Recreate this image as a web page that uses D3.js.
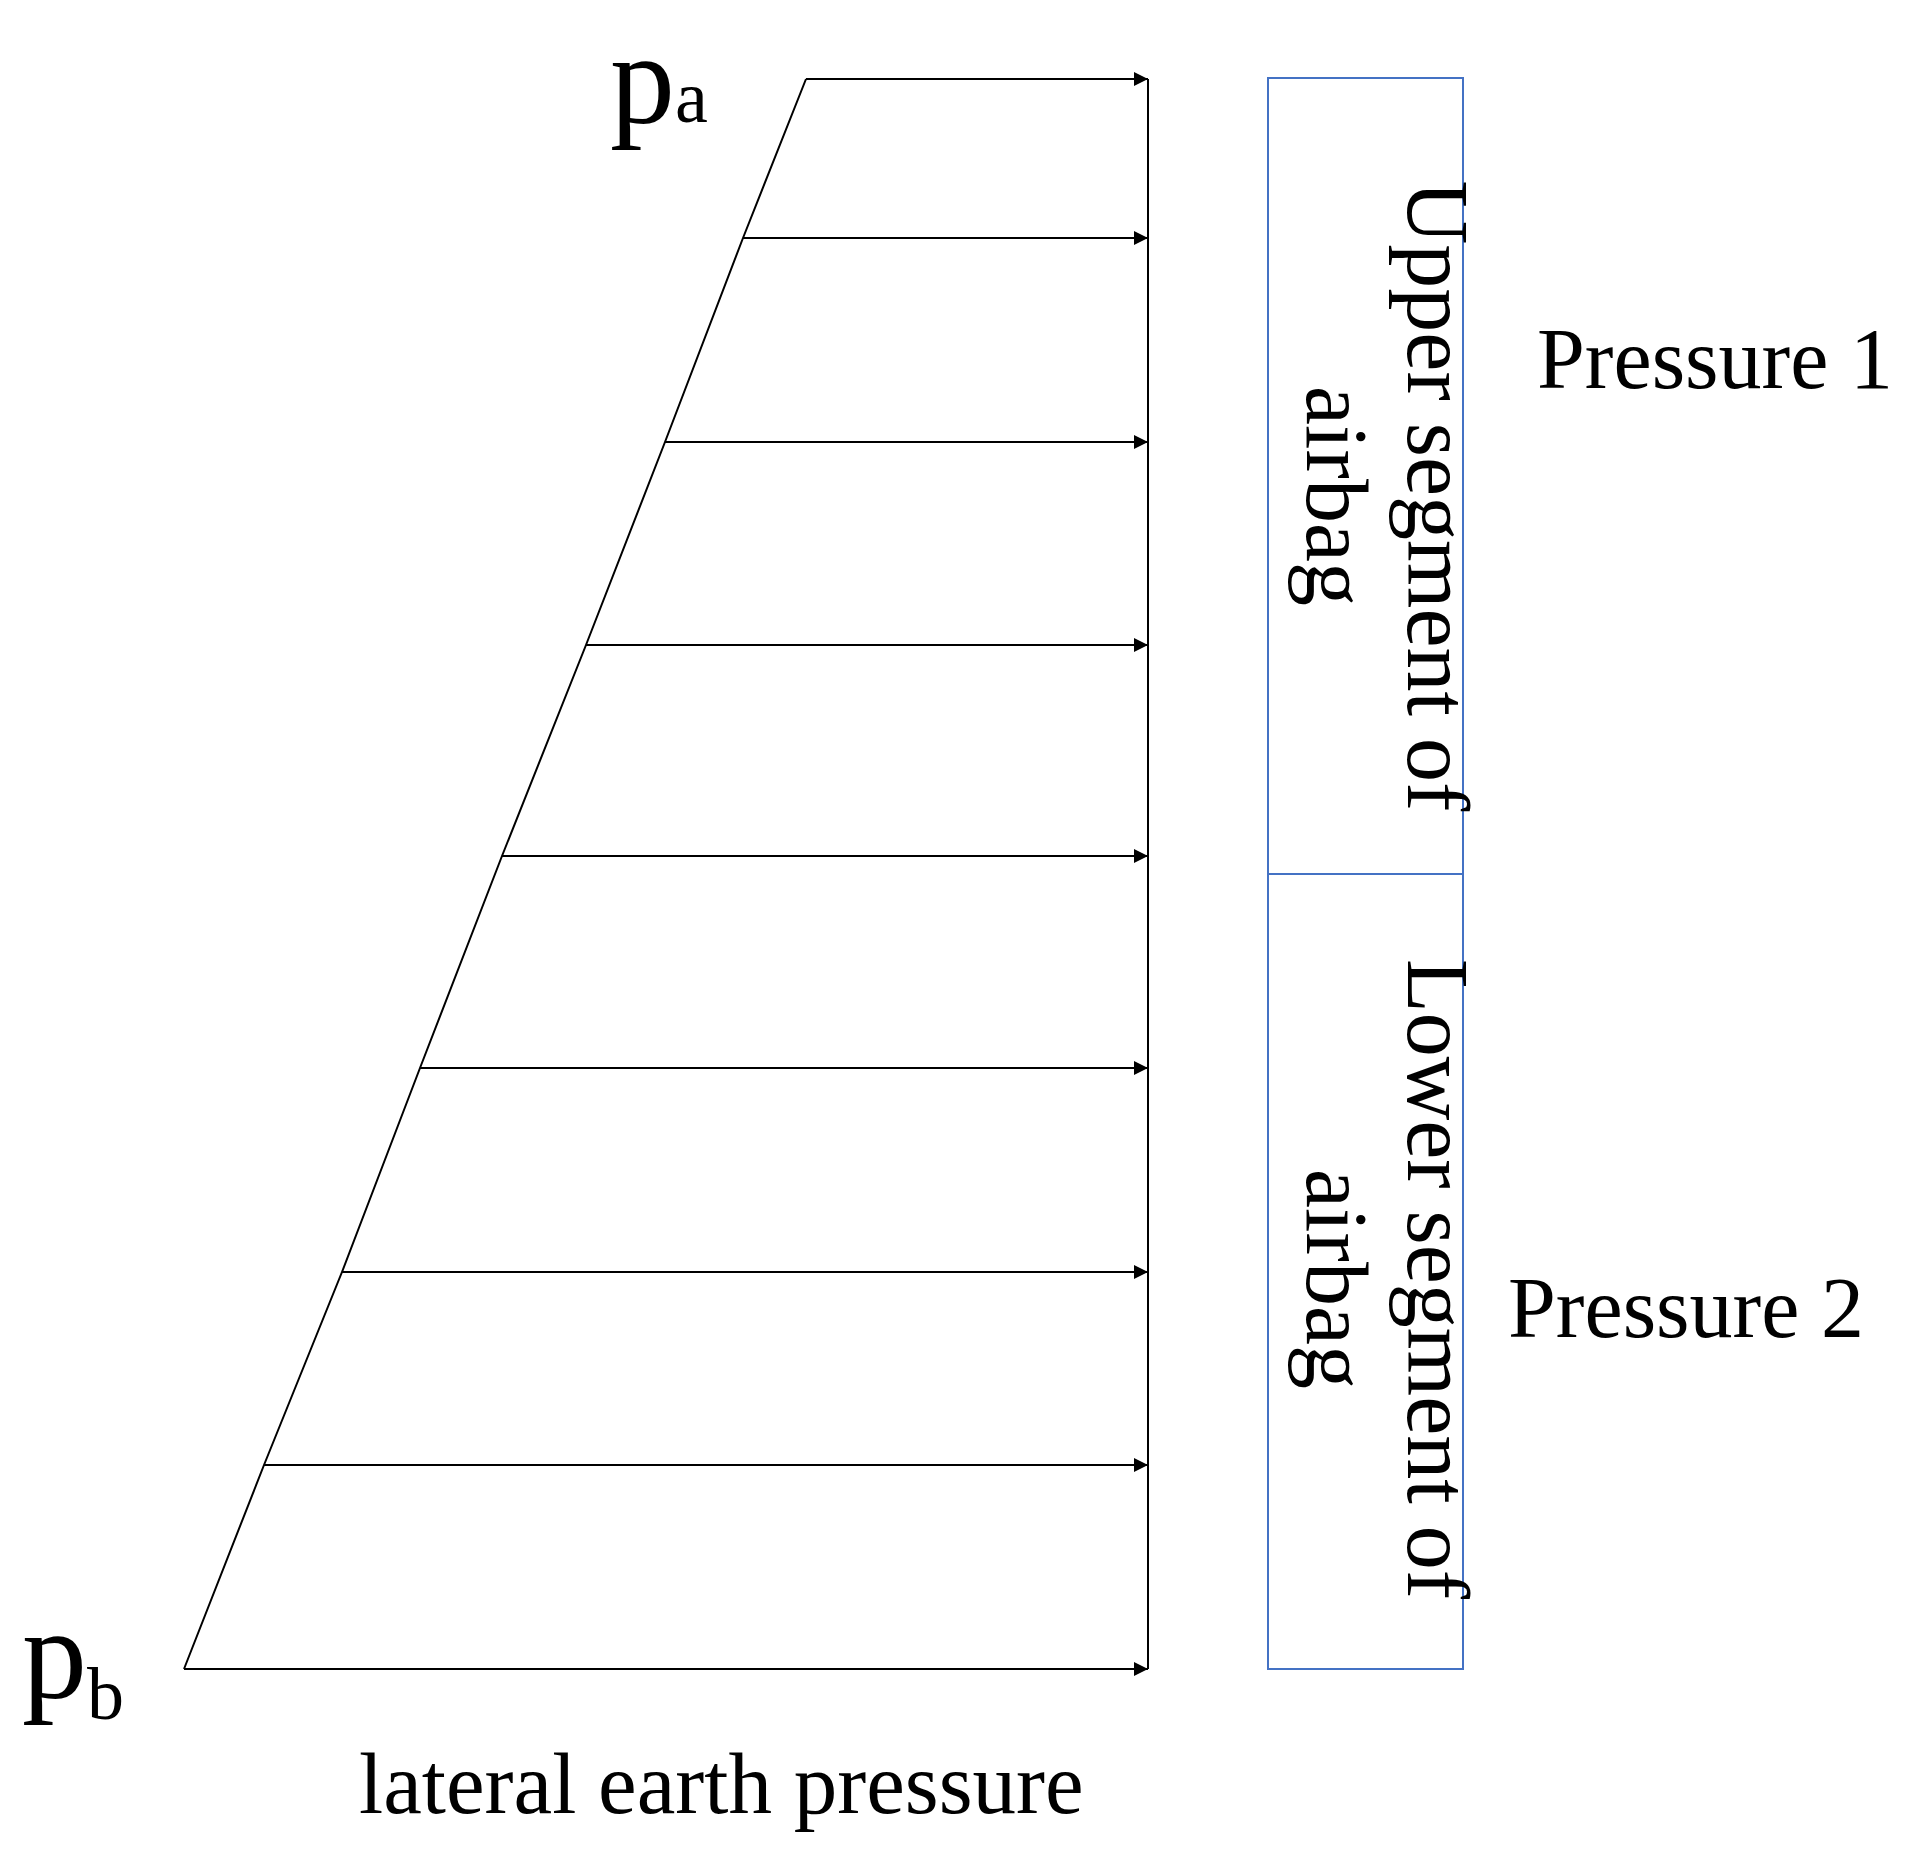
<!DOCTYPE html>
<html>
<head>
<style>
  body { margin: 0; background: #fff; }
  text { font-family: "Liberation Serif", "Times New Roman", serif; fill: #000; }
</style>
<script src="https://d3js.org/d3.v7.min.js"></script>
</head>
<body>
<svg id="chart"></svg>
<script>
// depth levels of the arrows (0 = top of wall) and pressure lengths at those levels
var depths = [0, 1, 2, 3, 4, 5, 6, 7, 8];
var depthPx = [79, 238, 442, 645, 856, 1068, 1272, 1465, 1669];
var pressures = [342, 405, 483, 562, 646, 728, 806, 884, 964];
var segments = [
  { name: ["Upper segment of", "airbag"], label: "Pressure 1" },
  { name: ["Lower segment of", "airbag"], label: "Pressure 2" }
];

var width = 1910, height = 1868;
var svg = d3.select("#chart").attr("width", width).attr("height", height);

var wallX = 1148;
var y = d3.scaleLinear().domain([0, 8]).range([79, 1669]);
var yPos = d3.scaleOrdinal().domain(depths).range(depthPx);
var x = d3.scaleLinear().domain([0, 1000]).range([wallX, wallX - 1000]);

svg.append("defs").append("marker")
    .attr("id", "arr").attr("viewBox", "0 0 10 10")
    .attr("refX", 10).attr("refY", 5)
    .attr("markerWidth", 22).attr("markerHeight", 14)
    .attr("markerUnits", "userSpaceOnUse").attr("orient", "auto")
  .append("path").attr("d", "M0,0L10,5L0,10Z").attr("fill", "#000");

// wall
svg.append("line").attr("x1", wallX).attr("x2", wallX)
    .attr("y1", y(0)).attr("y2", y(8))
    .attr("stroke", "#000").attr("stroke-width", 2);

// slope line
svg.append("path")
    .attr("d", d3.line().x(function(d, i) { return x(pressures[i]); })
                        .y(function(d) { return yPos(d); })(depths))
    .attr("fill", "none").attr("stroke", "#000").attr("stroke-width", 2);

// arrows
svg.selectAll(".arrow").data(depths).enter().append("line")
    .attr("x1", function(d, i) { return x(pressures[i]); })
    .attr("x2", wallX)
    .attr("y1", function(d) { return yPos(d); })
    .attr("y2", function(d) { return yPos(d); })
    .attr("stroke", "#000").attr("stroke-width", 2)
    .attr("marker-end", "url(#arr)");

// pa, pb labels
var pa = svg.append("text").attr("x", 610).attr("y", 122).attr("font-size", 130).text("p");
pa.append("tspan").attr("font-size", 74).attr("dy", 0).text("a");
var pb = svg.append("text").attr("x", 22).attr("y", 1697).attr("font-size", 130).text("p");
pb.append("tspan").attr("font-size", 74).attr("dy", 22).text("b");

// airbag boxes
var bx0 = 1268, bx1 = 1463;
var bounds = [[78, 874], [874, 1669]];
segments.forEach(function(s, i) {
  var b = bounds[i];
  svg.append("rect").attr("x", bx0).attr("y", b[0])
      .attr("width", bx1 - bx0).attr("height", b[1] - b[0])
      .attr("fill", "none").attr("stroke", "#4472c4").attr("stroke-width", 2);
  var cy = (i === 0) ? 496 : 1279;
  var g = svg.append("g").attr("transform", "translate(0," + cy + ")");
  [1408, 1307].forEach(function(bx, j) {
    g.append("text")
        .attr("transform", "translate(" + bx + ",0) rotate(90)")
        .attr("text-anchor", "middle").attr("font-size", 88)
        .text(s.name[j]);
  });
});

svg.append("text").attr("x", 1537).attr("y", 388).attr("font-size", 86).text("Pressure 1");
svg.append("text").attr("x", 1508).attr("y", 1337).attr("font-size", 86).text("Pressure 2");
svg.append("text").attr("x", 359).attr("y", 1813).attr("font-size", 87).text("lateral earth pressure");
</script>
</body>
</html>
